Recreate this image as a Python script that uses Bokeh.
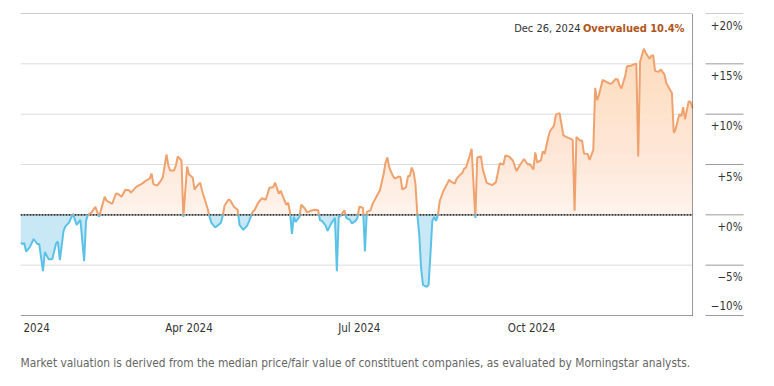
import numpy as np
import pandas as pd
from bokeh.plotting import figure
from bokeh.models import Range1d, ColumnDataSource
from bokeh.core.properties import value
from bokeh.embed import file_html
from bokeh.resources import INLINE

dates = [
    "2024-01-02", "2024-01-03", "2024-01-04", "2024-01-05", "2024-01-07", "2024-01-09", "2024-01-11", "2024-01-12",
    "2024-01-14", "2024-01-15", "2024-01-17", "2024-01-19", "2024-01-21", "2024-01-22", "2024-01-23", "2024-01-25",
    "2024-01-26", "2024-01-28", "2024-01-29", "2024-01-30", "2024-02-01", "2024-02-03", "2024-02-05", "2024-02-06",
    "2024-02-07", "2024-02-09", "2024-02-11", "2024-02-13", "2024-02-16", "2024-02-17", "2024-02-20", "2024-02-22",
    "2024-02-23", "2024-02-25", "2024-02-27", "2024-02-29", "2024-03-01", "2024-03-03", "2024-03-04", "2024-03-07",
    "2024-03-09", "2024-03-11", "2024-03-12", "2024-03-13", "2024-03-15", "2024-03-17", "2024-03-18", "2024-03-20",
    "2024-03-21", "2024-03-22", "2024-03-24", "2024-03-25", "2024-03-26", "2024-03-28", "2024-03-29", "2024-03-31",
    "2024-04-01", "2024-04-03", "2024-04-04", "2024-04-05", "2024-04-07", "2024-04-08", "2024-04-10", "2024-04-11",
    "2024-04-12", "2024-04-13", "2024-04-15", "2024-04-18", "2024-04-19", "2024-04-20", "2024-04-22", "2024-04-23",
    "2024-04-25", "2024-04-27", "2024-04-28", "2024-04-30", "2024-05-02", "2024-05-03", "2024-05-05", "2024-05-06",
    "2024-05-08", "2024-05-10", "2024-05-12", "2024-05-13", "2024-05-14", "2024-05-16", "2024-05-17", "2024-05-19",
    "2024-05-20", "2024-05-21", "2024-05-23", "2024-05-24", "2024-05-25", "2024-05-26", "2024-05-27", "2024-05-28",
    "2024-05-30", "2024-05-31", "2024-06-02", "2024-06-03", "2024-06-05", "2024-06-07", "2024-06-09", "2024-06-10",
    "2024-06-11", "2024-06-13", "2024-06-14", "2024-06-16", "2024-06-18", "2024-06-19", "2024-06-20", "2024-06-21",
    "2024-06-23", "2024-06-24", "2024-06-26", "2024-06-27", "2024-06-29", "2024-06-30", "2024-07-01", "2024-07-03",
    "2024-07-04", "2024-07-05", "2024-07-07", "2024-07-08", "2024-07-10", "2024-07-12", "2024-07-14", "2024-07-15",
    "2024-07-16", "2024-07-17", "2024-07-19", "2024-07-20", "2024-07-22", "2024-07-23", "2024-07-24", "2024-07-26",
    "2024-07-27", "2024-07-28", "2024-07-29", "2024-07-30", "2024-07-31", "2024-08-01", "2024-08-02", "2024-08-03",
    "2024-08-04", "2024-08-06", "2024-08-07", "2024-08-08", "2024-08-09", "2024-08-10", "2024-08-11", "2024-08-12",
    "2024-08-13", "2024-08-15", "2024-08-17", "2024-08-18", "2024-08-19", "2024-08-21", "2024-08-22", "2024-08-24",
    "2024-08-25", "2024-08-26", "2024-08-27", "2024-08-28", "2024-08-29", "2024-08-30", "2024-09-01", "2024-09-02",
    "2024-09-04", "2024-09-05", "2024-09-07", "2024-09-08", "2024-09-10", "2024-09-12", "2024-09-13", "2024-09-14",
    "2024-09-16", "2024-09-17", "2024-09-19", "2024-09-21", "2024-09-23", "2024-09-25", "2024-09-27", "2024-09-29",
    "2024-09-30", "2024-10-02", "2024-10-03", "2024-10-04", "2024-10-06", "2024-10-07", "2024-10-08", "2024-10-10",
    "2024-10-11", "2024-10-13", "2024-10-14", "2024-10-16", "2024-10-17", "2024-10-18", "2024-10-20", "2024-10-22",
    "2024-10-23", "2024-10-24", "2024-10-25", "2024-10-27", "2024-10-28", "2024-10-29", "2024-10-31", "2024-11-01",
    "2024-11-03", "2024-11-04", "2024-11-05", "2024-11-06", "2024-11-08", "2024-11-10", "2024-11-12", "2024-11-13",
    "2024-11-15", "2024-11-16", "2024-11-17", "2024-11-18", "2024-11-20", "2024-11-21", "2024-11-23", "2024-11-24",
    "2024-11-26", "2024-11-27", "2024-11-28", "2024-11-30", "2024-12-01", "2024-12-03", "2024-12-04", "2024-12-05",
    "2024-12-06", "2024-12-08", "2024-12-09", "2024-12-11", "2024-12-12", "2024-12-13", "2024-12-15", "2024-12-16",
    "2024-12-17", "2024-12-18", "2024-12-19", "2024-12-20", "2024-12-21", "2024-12-22", "2024-12-23", "2024-12-24",
    "2024-12-25", "2024-12-26",
]

valuation = [
    -2.75, -2.9, -2.8, -3.65, -3.2, -2.4, -2.9, -2.9,
    -5.6, -3.7, -4.4, -4.4, -2.85, -2.65, -4.5, -1.6,
    -1.15, -0.75, -0.3, 0.1, -1.0, -0.5, -4.6, -0.6,
    0.0, 0.25, 0.8, -0.2, 1.8, 1.4, 1.1, 2.1,
    2.1, 1.8, 2.5, 2.45, 2.2, 2.6, 2.8, 3.1,
    3.4, 3.6, 4.1, 3.05, 2.9, 3.4, 3.7, 6.0,
    4.9, 4.4, 4.4, 4.9, 5.8, 5.4, -0.2, 4.8,
    4.0, 3.7, 2.5, 2.8, 3.2, 2.4, 1.2, 0.6,
    -0.2, -0.8, -1.25, -0.8, -0.15, 0.9, 1.5, 1.45,
    0.8, 0.5, -1.0, -1.5, -1.1, -0.7, 0.3, 0.45,
    1.2, 1.65, 1.5, 2.1, 2.7, 2.75, 3.2, 2.1,
    2.4, 1.9, 1.0, 1.2, 0.25, -1.9, -0.2, -0.7,
    -0.2, 1.0, 0.6, 0.25, 0.4, 0.5, 0.45, -0.55,
    -0.6, -1.05, -1.6, -0.85, -0.3, -5.6, -0.2, -0.1,
    0.45, -0.3, -0.5, -0.85, -0.6, -0.3, 0.8, 0.7,
    -3.65, 0.3, 0.45, 1.05, 1.75, 2.45, 4.05, 5.2,
    5.7, 4.7, 3.85, 3.6, 3.8, 3.75, 2.5, 2.75,
    3.85, 3.85, 4.7, 4.25, 3.05, 0.0, -1.9, -5.25,
    -6.95, -7.15, -6.95, -3.9, -0.6, -0.2, -0.6, 0.0,
    1.4, 2.4, 3.1, 3.5, 3.3, 3.1, 3.6, 4.0,
    4.15, 4.6, 4.7, 5.3, 5.9, 6.55, -0.3, 5.7,
    5.8, 4.5, 3.2, 3.1, 2.95, 3.25, 4.15, 5.1,
    5.0, 5.9, 5.8, 5.4, 4.35, 5.0, 5.55, 5.0,
    5.05, 4.5, 6.2, 5.2, 5.4, 6.3, 6.05, 7.75,
    8.35, 8.85, 9.95, 10.1, 9.0, 7.9, 7.7, 7.55,
    7.4, 0.4, 7.75, 7.35, 7.4, 6.1, 6.05, 5.45,
    6.45, 12.6, 11.4, 11.9, 13.4, 13.2, 13.0, 13.1,
    13.5, 13.45, 12.9, 12.55, 13.75, 14.75, 14.8, 14.9,
    15.0, 5.8, 15.2, 16.5, 16.1, 15.5, 15.8, 15.85,
    14.3, 14.2, 14.45, 13.95, 13.1, 12.75, 12.1, 8.15,
    8.5, 9.3, 10.0, 9.8, 10.7, 9.5, 10.4, 11.3,
    11.2, 10.6,
]

x_tick_dates = ["2024-01-01", "2024-04-01", "2024-07-01", "2024-10-01"]
x_tick_labels = ["2024", "Apr 2024", "Jul 2024", "Oct 2024"]
y_ticks = [20, 15, 10, 5, 0, -5, -10]
y_tick_labels = ["+20%", "+15%", "+10%", "+5%", "+0%", "\u22125%", "\u221210%"]

note_date = "Dec 26, 2024"
note_status = "Overvalued"
note_value = "10.4%"
footnote = ("Market valuation is derived from the median price/fair value of constituent "
            "companies, as evaluated by Morningstar analysts.")

FONT = "DejaVu Sans Condensed"
ORANGE = "#f0a26e"
ORANGE_BASE = "#fef4ee"
ORANGE_SHADE = "#f6c09e"
BLUE = "#5bc2e7"
BLUE_FILL = "#c9e8f6"
TEXT = "#333333"

# ---- layout (pixels) ----
W, H = 774, 386
LEFT, TOP = 20, 13
DATA_W, DATA_H = 672, 302          # plotting area for the series
FRAME_W, FRAME_H = 740, 367        # frame also holds the tick labels
ymin, ymax = min(y_ticks), max(y_ticks)

# ---- prepare series (split at zero crossings) ----
xs = pd.to_datetime(dates).asi8 / 1e6
v = np.array(valuation, dtype=float)
X, Y = [xs[0]], [v[0]]
for i in range(1, len(v)):
    a, b = v[i - 1], v[i]
    if a * b < 0:
        X.append(xs[i - 1] + (xs[i] - xs[i - 1]) * (a / (a - b)))
        Y.append(0.0)
    X.append(xs[i])
    Y.append(b)
X = np.array(X)
Y = np.array(Y)
pos = np.maximum(Y, 0)
neg = np.minimum(Y, 0)
line_pos = np.where(Y >= 0, Y, np.nan)
line_neg = np.where(Y <= 0, Y, np.nan)

x0, x1 = xs[0], xs[-1]
mspx = (x1 - x0) / DATA_W
upx = (ymax - ymin) / DATA_H
x_range = Range1d(x0, x0 + FRAME_W * mspx)
y_range = Range1d(ymax - FRAME_H * upx, ymax)

p = figure(frame_width=FRAME_W, frame_height=FRAME_H, output_backend="svg", toolbar_location=None,
           x_axis_location=None, y_axis_location=None, x_range=x_range, y_range=y_range,
           min_border_left=LEFT, min_border_top=TOP,
           min_border_right=W - LEFT - FRAME_W, min_border_bottom=H - TOP - FRAME_H,
           outline_line_color=None, background_fill_color="white", border_fill_color="white")
p.xgrid.visible = False
p.ygrid.visible = False

# gridlines across the series area
inner = [t for t in y_ticks if t not in (ymin, ymax)]
p.segment(x0=x0, x1=x1, y0=inner, y1=inner, line_color="#dcdcdc", line_width=1)

# overvalued fill: light base plus stacked translucent layers -> vertical gradient
p.varea(x=X, y1=0, y2=pos, fill_color=ORANGE_BASE)
for lvl in range(0, int(np.ceil(pos.max()))):
    p.varea(x=X, y1=np.minimum(pos, lvl), y2=pos, fill_color=ORANGE_SHADE, fill_alpha=0.04)
# undervalued fill
p.varea(x=X, y1=neg, y2=0, fill_color=BLUE_FILL)

# top / bottom border lines
p.segment(x0=x0, x1=x1, y0=[ymin, ymax], y1=[ymin, ymax], line_color="#9a9a9a", line_width=1)

# zero line
p.segment(x0=x0, x1=x1, y0=0, y1=0, line_color="#333333", line_width=1.6, line_dash="2 1")

# series lines
p.line(X, line_pos, line_color=ORANGE, line_width=2)
p.line(X, line_neg, line_color=BLUE, line_width=2)

# marker line at last date
p.segment(x0=x1, x1=x1, y0=ymin, y1=ymax, line_color="#333333", line_width=1, line_dash="1 1")

# right-side tick marks
p.segment(x0=x1 + 13 * mspx, x1=x1 + 51 * mspx, y0=y_ticks, y1=y_ticks, line_color="#9a9a9a", line_width=1)

# y tick labels (below their lines, last one above)
ysrc = ColumnDataSource(dict(
    x=[x1] * len(y_ticks), y=y_ticks, text=y_tick_labels,
    yoff=[12 if t > ymin else -10 for t in y_ticks]))
p.text(x="x", y="y", text="text", source=ysrc, x_offset=50, y_offset="yoff",
       text_align="right", text_baseline="middle", text_font=value(FONT),
       text_font_size="11.5px", text_color=TEXT)

# x tick labels
xt = pd.to_datetime(x_tick_dates).asi8 / 1e6
xsrc = ColumnDataSource(dict(
    x=[max(t, x0) for t in xt], y=[ymin] * len(xt), text=x_tick_labels,
    align=["left" if t <= x0 else "center" for t in xt],
    xoff=[3 if t <= x0 else 0 for t in xt]))
p.text(x="x", y="y", text="text", source=xsrc, x_offset="xoff", y_offset=12,
       text_align="align", text_baseline="middle", text_font=value(FONT),
       text_font_size="11.5px", text_color=TEXT)

# annotation
p.text(x=[x1], y=[ymax], text=[f"{note_status} {note_value}"], x_offset=-8, y_offset=15,
       text_align="right", text_baseline="middle", text_font=value(FONT),
       text_font_size="11px", text_font_style="bold", text_color="#b0561a")
p.text(x=[x1], y=[ymax], text=[note_date], x_offset=-112, y_offset=15,
       text_align="right", text_baseline="middle", text_font=value(FONT),
       text_font_size="11px", text_color=TEXT)

# footnote
p.text(x=[x0], y=[ymin], text=[footnote], x_offset=0, y_offset=47,
       text_align="left", text_baseline="middle", text_font=value(FONT),
       text_font_size="11.85px", text_color="#666666")

open("out.html", "w").write(file_html(p, INLINE))
